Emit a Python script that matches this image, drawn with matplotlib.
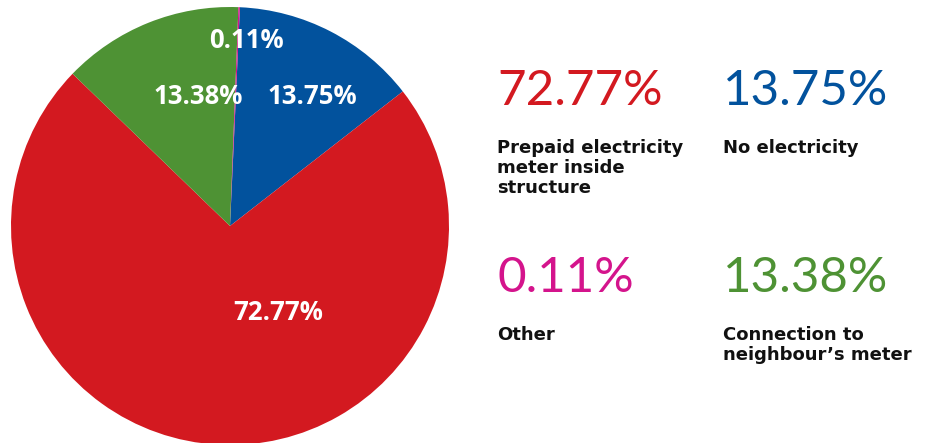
import matplotlib
matplotlib.use('Agg')
import matplotlib.pyplot as plt
from matplotlib import font_manager as fm

# electricity access shares (%), clockwise from the top
categories = ['No electricity', 'Prepaid electricity\nmeter inside\nstructure',
              'Connection to\nneighbour\u2019s meter', 'Other']
shares = [13.75, 72.77, 13.38, 0.11]
colors = ['#02529D', '#D31920', '#4E9234', '#D4148C']


def font_file(basename, family, weight='normal'):
    # pick a specific static font file so variable/condensed faces are not chosen
    for f in fm.fontManager.ttflist:
        if f.fname.split('/')[-1] == basename:
            return fm.FontProperties(fname=f.fname)
    return fm.FontProperties(family=family, weight=weight)


big_font = font_file('Lato-Regular.ttf', 'Lato')
pie_font = font_file('OpenSans-Bold.ttf', 'Open Sans', 'bold')
text_font = font_file('DejaVuSans-Bold.ttf', 'DejaVu Sans', 'bold')

W, H = 930, 443
fig = plt.figure(figsize=(W / 100, H / 100), dpi=100)

# pie centre (230, 226) px, radius 219 px
cx, cy, r = 230, 226, 219
ax = fig.add_axes([(cx - r) / W, (H - cy - r) / H, 2 * r / W, 2 * r / H])
wedges, _ = ax.pie(shares, colors=colors, startangle=87.4, counterclock=False,
                   radius=1, wedgeprops=dict(linewidth=0))
ax.set_xlim(-1, 1)
ax.set_ylim(-1, 1)
ax.set_aspect('equal')
ax.axis('off')

# in-pie value labels (pixel positions of text centres)
label_pos = [(312, 96), (278, 313), (198, 96), (246, 40)]
for v, (x, y) in zip(shares, label_pos):
    ax.text((x - cx) / r, (cy - y) / r, f'{v:.2f}%', color='white',
            fontproperties=pie_font, fontsize=18.5,
            ha='center', va='center')

# legend blocks on the right: (left x, value baseline y, label first baseline y)
legend_pos = [(723, 105, 153), (497, 105, 153), (723, 292, 340), (497, 292, 340)]
for v, lab, c, (x, yv, yl) in zip(shares, categories, colors, legend_pos):
    fig.text(x / W, 1 - yv / H, f'{v:.2f}%', color=c, fontproperties=big_font,
             fontsize=35.5, ha='left', va='baseline')
    lines = lab.split('\n')
    for i, ln in enumerate(lines):
        fig.text(x / W, 1 - (yl + 20 * i) / H, ln, color='#111111',
                 fontproperties=text_font, fontsize=13,
                 ha='left', va='baseline')

fig.savefig('out.png', dpi=100)
